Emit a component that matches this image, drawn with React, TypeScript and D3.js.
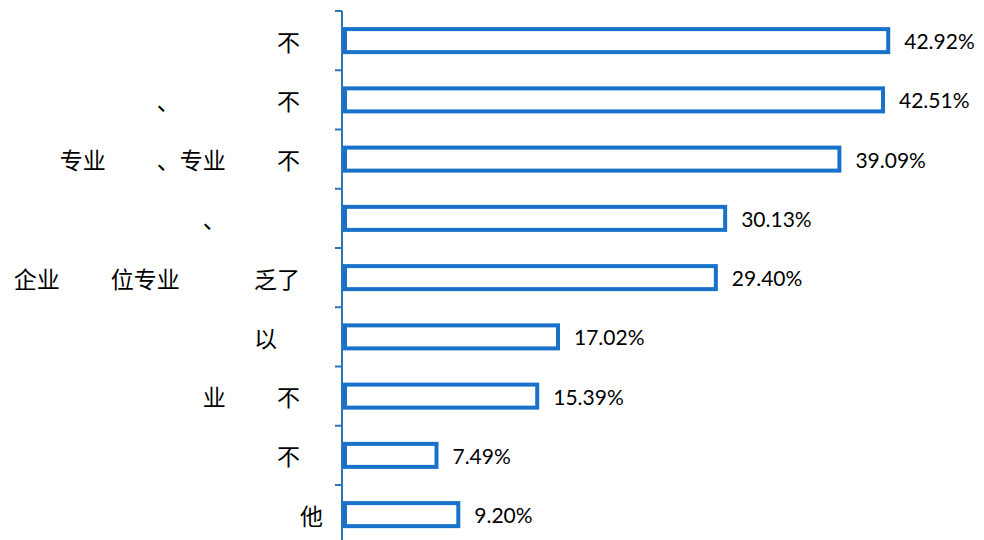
import React from "react";
import * as d3 from "d3";

const categories = [
  "不　",
  "、　　　　\u2002 不　",
  "专业　　 、专业　　 不　",
  "、　　　　\u2002 ",
  "企业　　 位专业　　　 乏了　",
  "以　　",
  "业　　 不　",
  "不　",
  "他",
];
const values = [42.92, 42.51, 39.09, 30.13, 29.4, 17.02, 15.39, 7.49, 9.2];
const valueLabels = ["42.92%", "42.51%", "39.09%", "30.13%", "29.40%", "17.02%", "15.39%", "7.49%", "9.20%"];

const W = 984;
const H = 540;
const BAR = "#1872CA";
const AXIS = "#2E75B6";

export default function App() {
  const x = d3.scaleLinear().domain([0, 45]).range([343, 343 + 45 * 12.75]);
  const y = d3
    .scaleBand<string>()
    .domain(categories.map((_, i) => String(i)))
    .range([11, 544.25])
    .paddingInner(0.544)
    .paddingOuter(0.272);
  const step = y.step();
  const sw = 4;
  return (
    <svg width={W} height={H} style={{ position: "absolute", left: 0, top: 0, background: "#fff" }}>
      {categories.map((c, i) => {
        const yy = y(String(i))!;
        const bw = y.bandwidth();
        const cy = yy + bw / 2;
        return (
          <g key={i}>
            <rect
              x={x(0) + sw / 2}
              y={yy + sw / 2}
              width={x(values[i]) - x(0) - sw}
              height={bw - sw}
              fill="#fff"
              stroke={BAR}
              strokeWidth={sw}
            />
            <text
              x={x(values[i]) + 14}
              y={cy}
              dominantBaseline="central"
              fontFamily="Lato, 'Open Sans', sans-serif"
              fontSize={21}
              fill="#000"
            >
              {valueLabels[i]}
            </text>
            <text
              x={323}
              y={cy}
              dominantBaseline="central"
              textAnchor="end"
              fontFamily="'Noto Sans CJK SC', sans-serif"
              fontSize={23}
              fill="#000"
              style={{ whiteSpace: "pre" }}
            >
              {c}
            </text>
          </g>
        );
      })}
      <line x1={342} x2={342} y1={11} y2={H} stroke={AXIS} strokeWidth={2} />
      {d3.range(categories.length + 1).map((i) => (
        <line key={i} x1={335} x2={342} y1={11 + i * step} y2={11 + i * step} stroke={AXIS} strokeWidth={2} />
      ))}
    </svg>
  );
}
